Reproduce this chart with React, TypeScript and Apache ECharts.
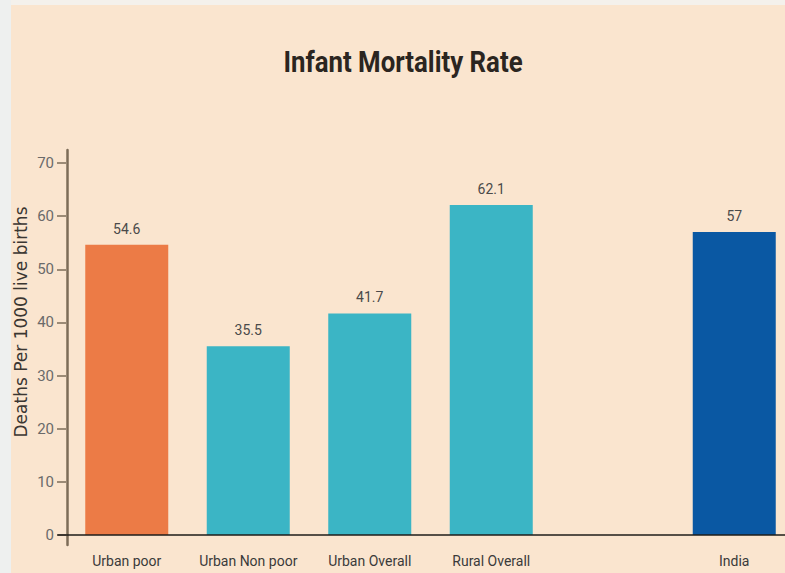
import React, { useEffect, useRef } from "react";
import * as echarts from "echarts";

const categories = ["Urban poor", "Urban Non poor", "Urban Overall", "Rural Overall", "", "India"];
const values: (number | null)[] = [54.6, 35.5, 41.7, 62.1, null, 57];
const barColors = ["#ec7b46", "#3bb5c5", "#3bb5c5", "#3bb5c5", "#3bb5c5", "#0a58a3"];
const titleText = "Infant Mortality Rate";
const yAxisName = "Deaths Per 1000 live births";

const NARROW = "'Liberation Sans Narrow', 'Arial Narrow', 'Roboto', sans-serif";

export default function App() {
  const ref = useRef<HTMLDivElement>(null);
  useEffect(() => {
    if (!ref.current) return;
    const chart = echarts.init(ref.current, undefined, { renderer: "svg" });
    chart.setOption({
      animation: false,
      backgroundColor: "#fae5cf",
      graphic: [
        { type: "rect", left: 0, top: 0, shape: { width: 820, height: 5 }, style: { fill: "#f4f1ec" }, z: 0 },
        { type: "rect", left: 0, top: 0, shape: { width: 11, height: 573 }, style: { fill: "#eef0ef" }, z: 0 },
        {
          type: "text",
          x: 403,
          y: 62,
          scaleX: 0.86,
          style: {
            text: titleText,
            font: `bold 30px ${NARROW}`,
            fill: "#2b2520",
            textAlign: "center",
            textVerticalAlign: "middle",
          },
        },
        {
          type: "text",
          x: 21,
          y: 322,
          rotation: Math.PI / 2,
          style: {
            text: yAxisName,
            font: "17px 'DejaVu Sans', sans-serif",
            fill: "#3a3632",
            textAlign: "center",
            textVerticalAlign: "middle",
          },
        },
      ],
      grid: [
        { left: 66, top: 163, width: 729, height: 372 },
        { left: 58, top: 150, width: 740, height: 395 },
      ],
      xAxis: [
        {
          gridIndex: 0,
          type: "category",
          data: categories,
          axisLine: { show: false },
          axisTick: { show: false },
          axisLabel: {
            interval: 0,
            margin: 19,
            fontSize: 14,
            fontFamily: NARROW,
            color: "#3a3a3a",
          },
        },
        {
          gridIndex: 1,
          type: "value",
          min: 0,
          max: 1,
          offset: -10,
          z: 5,
          axisLine: { show: true, onZero: false, lineStyle: { color: "#1e1c1a", width: 1.6 } },
          axisTick: { show: false },
          axisLabel: { show: false },
          splitLine: { show: false },
        },
      ],
      yAxis: [
        {
          gridIndex: 0,
          type: "value",
          min: 0,
          max: 70,
          interval: 10,
          axisLine: { show: false },
          axisTick: { show: true, length: 9, lineStyle: { color: "#7d6c58", width: 1.5 } },
          axisLabel: { margin: 12, fontSize: 15, fontFamily: NARROW, color: "#6a6a6a" },
          splitLine: { show: false },
        },
        {
          gridIndex: 1,
          type: "value",
          min: 0,
          max: 1,
          offset: -9,
          z: 5,
          axisLine: { show: true, onZero: false, lineStyle: { color: "#7d6c58", width: 2.5 } },
          axisTick: { show: false },
          axisLabel: { show: false },
          splitLine: { show: false },
        },
      ],
      series: [
        {
          type: "bar",
          xAxisIndex: 0,
          yAxisIndex: 0,
          barWidth: 83,
          data: values.map((v, i) => ({
            value: v === null ? "-" : v,
            itemStyle: { color: barColors[i] },
          })),
          label: {
            show: true,
            position: "top",
            distance: 9,
            fontSize: 14,
            fontFamily: NARROW,
            color: "#4a4a4a",
          },
        },
      ],
    });
    return () => chart.dispose();
  }, []);
  return (
    <div style={{ width: 785, height: 573, position: "absolute", left: 0, top: 0, overflow: "hidden" }}>
      <div ref={ref} style={{ width: 820, height: 573 }} />
    </div>
  );
}
